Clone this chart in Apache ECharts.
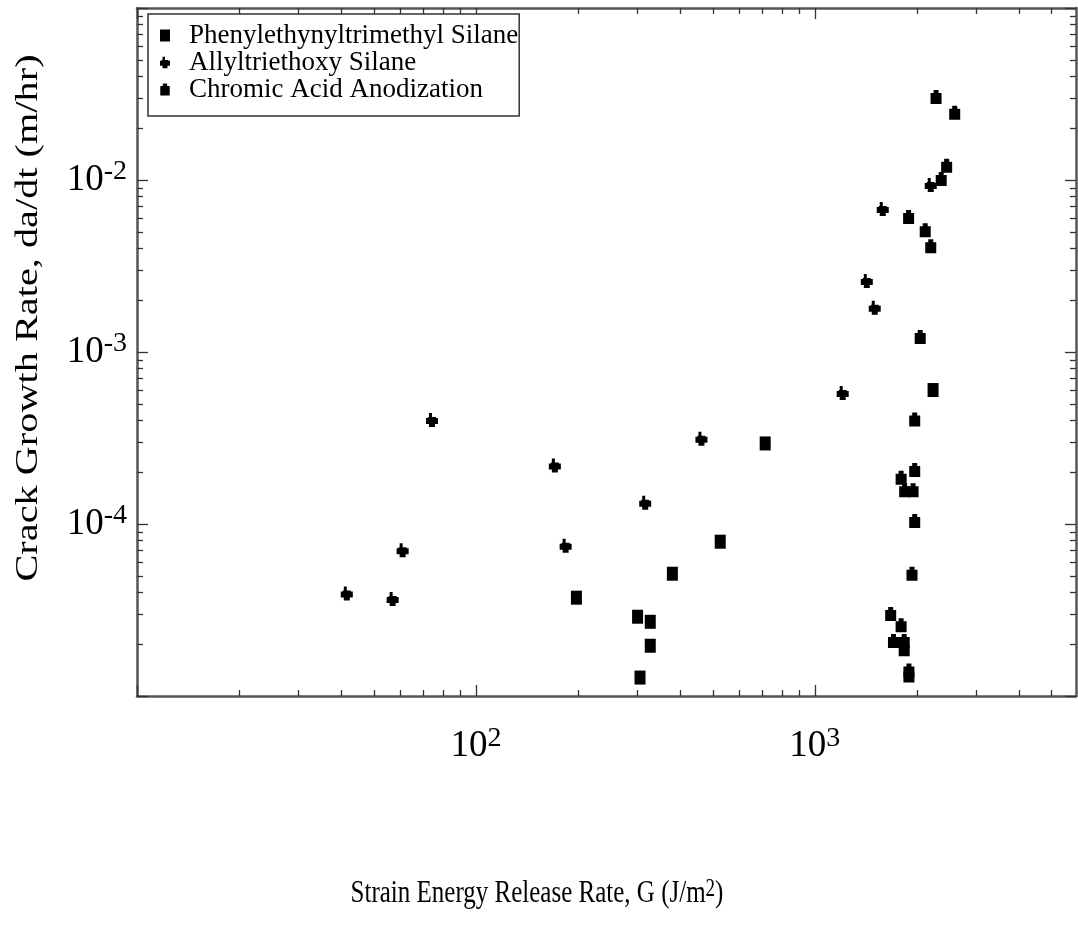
<!DOCTYPE html>
<html>
<head>
<meta charset="utf-8">
<script src="https://cdn.jsdelivr.net/npm/echarts@6/dist/echarts.min.js"></script>
<style>
  html, body { margin: 0; padding: 0; background: #fff; }
  #chart { width: 1078px; height: 941px; }
</style>
</head>
<body>
<div id="chart"></div>
<script>
// Series names
const seriesNames = ['Phenylethynyltrimethyl Silane', 'Allyltriethoxy Silane', 'Chromic Acid Anodization'];

// Phenylethynyltrimethyl Silane: G (J/m^2), da/dt (m/hr)
const phenylG    = [198, 300, 327, 327, 305, 380, 526, 714, 2234];
const phenylRate = [3.73e-5, 2.89e-5, 2.70e-5, 1.96e-5, 1.28e-5, 5.14e-5, 7.89e-5, 2.94e-4, 6.01e-4];

// Allyltriethoxy Silane
const allylG    = [41.6, 56.8, 60.8, 74.2, 171, 184, 316, 463, 1209, 1424, 1503, 1587, 2199];
const allylRate = [3.95e-5, 3.66e-5, 7.03e-5, 4.03e-4, 2.19e-4, 7.48e-5, 1.33e-4, 3.13e-4, 5.78e-4, 2.59e-3, 1.81e-3, 6.78e-3, 9.35e-3];

// Chromic Acid Anodization
const chromicG    = [2280, 2588, 2450, 2361, 1892, 2118, 2199, 2047, 1972, 1972, 1798, 1842, 1950, 1972, 1936, 1675, 1798, 1707, 1836, 1836, 1896, 1896];
const chromicRate = [0.0298, 0.0241, 0.01186, 9.93e-3, 5.97e-3, 5.00e-3, 4.04e-3, 1.20e-3, 3.97e-4, 2.02e-4, 1.82e-4, 1.54e-4, 1.54e-4, 1.02e-4, 5.03e-5, 2.94e-5, 2.53e-5, 2.05e-5, 2.05e-5, 1.83e-5, 1.38e-5, 1.29e-5];

// Axis ranges and tick positions
const xRange = [10, 5900];
const yRange = [1e-5, 1e-1];
const xMajorTicks = [10, 100, 1000];
const xLabelTicks = [100, 1000];
const xMinorTicks = [20, 30, 40, 50, 60, 70, 80, 90, 200, 300, 400, 500, 600, 700, 800, 900, 2000, 3000, 4000, 5000];
const yMajorTicks = [1e-5, 1e-4, 1e-3, 1e-2, 1e-1];
const yLabelTicks = [1e-4, 1e-3, 1e-2];
const yMinorTicks = [2e-5, 3e-5, 4e-5, 5e-5, 6e-5, 7e-5, 8e-5, 9e-5,
                     2e-4, 3e-4, 4e-4, 5e-4, 6e-4, 7e-4, 8e-4, 9e-4,
                     2e-3, 3e-3, 4e-3, 5e-3, 6e-3, 7e-3, 8e-3, 9e-3,
                     2e-2, 3e-2, 4e-2, 5e-2, 6e-2, 7e-2, 8e-2, 9e-2];

const SERIF = '"Liberation Serif", "Times New Roman", serif';

const zip = (xs, ys) => xs.map((x, i) => [x, ys[i]]);

// "10" with the exponent raised as a superscript
const powerLabel = v => '{b|10}{s|' + Math.round(Math.log10(v)) + '}';
const powerRich = {
  b: { fontFamily: SERIF, fontSize: 37, lineHeight: 37, color: '#000' },
  s: { fontFamily: SERIF, fontSize: 28, lineHeight: 28, padding: [0, 0, 16, 0], color: '#000' }
};

function logAxis(range, position, ticks, tickLen, showLine, labels, labelMargin) {
  return {
    type: 'log',
    logBase: 10,
    min: range[0],
    max: range[1],
    position: position,
    axisLine: { show: showLine, onZero: false, lineStyle: { color: '#555', width: 2.5 } },
    axisTick: { show: true, inside: true, length: tickLen, customValues: ticks,
                lineStyle: { color: '#333', width: 1.3 } },
    axisLabel: labels ? {
      show: true, customValues: labels, margin: labelMargin,
      fontFamily: SERIF, fontSize: 37, color: '#000',
      formatter: powerLabel, rich: powerRich
    } : { show: false },
    minorTick: { show: false },
    splitLine: { show: false },
    minorSplitLine: { show: false }
  };
}

const chart = echarts.init(document.getElementById('chart'), null, { renderer: 'canvas' });

chart.setOption({
  backgroundColor: '#fff',
  animation: false,
  grid: { left: 137, right: 2, top: 8, bottom: 245, containLabel: false },
  xAxis: [
    logAxis(xRange, 'bottom', xMajorTicks, 11, true, xLabelTicks, 32),
    logAxis(xRange, 'bottom', xMinorTicks, 6, false, null),
    logAxis(xRange, 'top', xMajorTicks, 11, true, null),
    logAxis(xRange, 'top', xMinorTicks, 6, false, null)
  ],
  yAxis: [
    logAxis(yRange, 'left', yMajorTicks, 11, true, yLabelTicks, 10),
    logAxis(yRange, 'left', yMinorTicks, 6, false, null),
    logAxis(yRange, 'right', yMajorTicks, 11, true, null),
    logAxis(yRange, 'right', yMinorTicks, 6, false, null)
  ],
  legend: {
    orient: 'vertical',
    left: 148,
    top: 14,
    padding: [8, 1, 13, 12],
    itemGap: 0,
    itemWidth: 10,
    itemHeight: 12,
    borderColor: '#333',
    borderWidth: 1.5,
    backgroundColor: '#fff',
    selectedMode: false,
    textStyle: { fontFamily: SERIF, fontSize: 27, lineHeight: 25.5, color: '#000', padding: [0, 0, 0, 14] },
    data: seriesNames
  },
  graphic: [
    {
      type: 'text',
      x: 29, y: 318,
      rotation: Math.PI / 2,
      scaleX: 1.3,
      style: {
        text: 'Crack Growth Rate, da/dt (m/hr)',
        font: '31px ' + SERIF,
        fill: '#000',
        align: 'center',
        verticalAlign: 'middle'
      }
    },
    {
      type: 'text',
      x: 537, y: 893,
      scaleY: 1.3,
      style: {
        text: '{n|Strain Energy Release Rate, G (J/m}{s|2}{n|)}',
        fill: '#000',
        align: 'center',
        verticalAlign: 'middle',
        rich: {
          n: { fontSize: 25, fontFamily: SERIF, lineHeight: 25, fill: '#000' },
          s: { fontSize: 19, fontFamily: SERIF, lineHeight: 13, verticalAlign: 'top', fill: '#000' }
        }
      }
    }
  ],
  series: [
    {
      name: seriesNames[0], type: 'scatter',
      symbol: 'rect', symbolSize: [11, 14],
      itemStyle: { color: '#000', opacity: 1 },
      data: zip(phenylG, phenylRate)
    },
    {
      name: seriesNames[1], type: 'scatter',
      symbol: 'path://M3 0L6 0L6 4L10 4L10 5L12 5L12 11L9 11L9 14L3 14L3 11L0 11L0 5L2 5L2 4L3 4Z',
      symbolSize: [12, 14],
      itemStyle: { color: '#000', opacity: 1 },
      data: zip(allylG, allylRate)
    },
    {
      name: seriesNames[2], type: 'scatter',
      symbol: 'path://M0 3L3 3L3 0L8 0L8 3L11 3L11 14L0 14Z',
      symbolSize: [11, 14],
      symbolOffset: [0, -1.5],
      itemStyle: { color: '#000', opacity: 1 },
      data: zip(chromicG, chromicRate)
    }
  ]
});
</script>
</body>
</html>
